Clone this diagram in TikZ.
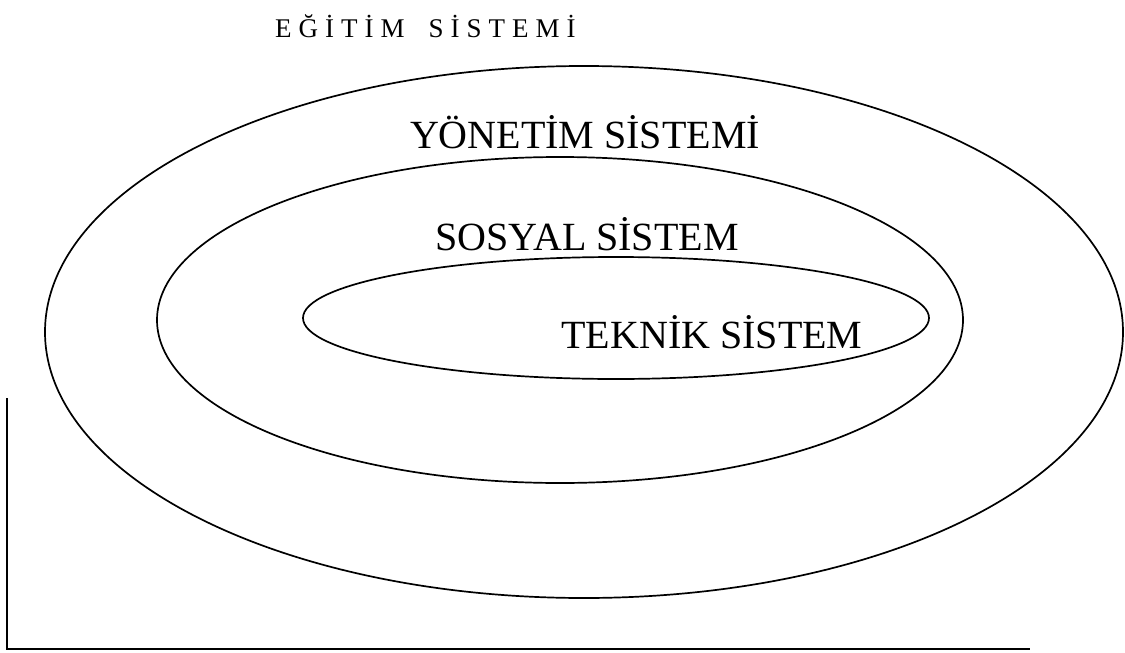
\documentclass[tikz,border=0pt]{standalone}
\usepackage{fontspec}
\setmainfont{Liberation Serif}
\newfontfamily\titlefont[LetterSpace=26]{Liberation Serif}
\begin{document}
\begin{tikzpicture}[x=1pt,y=-1pt,
  ring/.style={line width=1.7pt},
  frame/.style={line width=1.4pt},
  lab/.style={font=\fontsize{40}{40}\selectfont, inner sep=0pt, anchor=base},
  ttl/.style={font=\titlefont\fontsize{27}{27}\selectfont, inner sep=0pt, anchor=base west}]
\useasboundingbox (0,0) rectangle (1125,653);
\draw[ring] (584,332) ellipse [x radius=539pt, y radius=266pt];
\draw[ring] (560,320) ellipse [x radius=403pt, y radius=163pt];
\draw[ring] (616,318) ellipse [x radius=313pt, y radius=61pt];
\node[ttl] (egt) at (275,37) {EĞİTİM\hspace{10pt} SİSTEMİ};
\node[lab] (yon) at (585,148) {YÖNETİM SİSTEMİ};
\node[lab] (sos) at (587,250) {SOSYAL SİSTEM};
\node[lab] (tek) at (712,348) {TEKNİK SİSTEM};
\coordinate (tl) at (7,398);
\coordinate (bl) at (7,649);
\coordinate (br) at (1030,649);
\draw[frame] (tl) -- (bl) -- (br);
\end{tikzpicture}
\end{document}
